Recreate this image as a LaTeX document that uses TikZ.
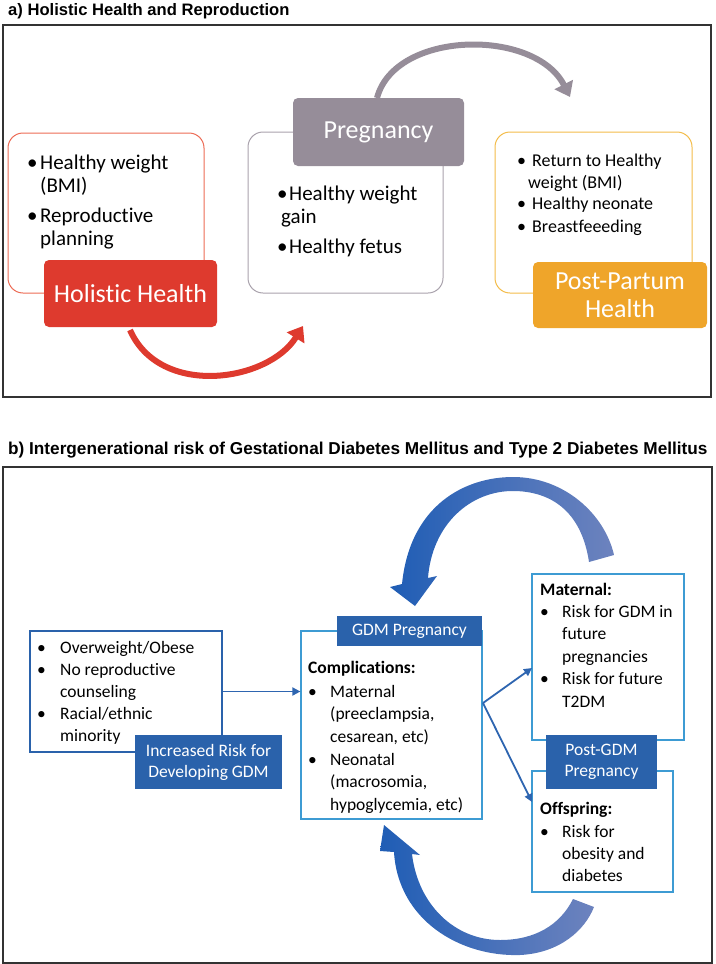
\documentclass[tikz,border=0pt]{standalone}
\usepackage{fontspec}
\setmainfont{Carlito}[Ligatures=NoCommon]
\newfontfamily\titlefont{Liberation Sans}
\usepackage{tikz}
\usetikzlibrary{calc}
\usetikzlibrary{positioning}
\usetikzlibrary{arrows.meta}

\definecolor{hhred}{HTML}{DE3A2E}
\definecolor{hhline}{HTML}{EC6B55}
\definecolor{pgfill}{HTML}{968D99}
\definecolor{pgline}{HTML}{A9A2AC}
\definecolor{ppfill}{HTML}{EFA52A}
\definecolor{ppline}{HTML}{F3BC4A}
\definecolor{bdark}{HTML}{2A62AB}
\definecolor{bline}{HTML}{3D9BD3}
\definecolor{barrowc}{HTML}{2E65B0}
\definecolor{bdeep}{HTML}{1F5DB5}
\definecolor{bsoft}{HTML}{6D83BE}
\definecolor{framec}{HTML}{333333}

\begin{document}
\begin{tikzpicture}[x=1pt,y=-1pt,
    ttl/.style={anchor=base west,inner sep=0pt,font=\titlefont\bfseries\fontsize{16.6}{19}\selectfont},
    atxt/.style={anchor=base west,inner sep=0pt,font=\fontsize{21}{24}\selectfont},
    ptxt/.style={anchor=base west,inner sep=0pt,font=\fontsize{18}{22}\selectfont},
    btxt/.style={anchor=base west,inner sep=0pt,font=\fontsize{17.5}{22}\selectfont},
    obox/.style={draw,line width=1pt,rounded corners=15pt,inner sep=0pt},
    alab/.style={text=white,rounded corners=5pt,inner sep=0pt,align=center,font=\fontsize{26}{28}\selectfont},
    bbox/.style={draw=bline,line width=1.2pt,inner sep=0pt},
    blab/.style={fill=bdark,text=white,inner sep=0pt,align=center,font=\fontsize{17.5}{21}\selectfont},
    barrow/.style={draw=barrowc,line width=1.8pt,-{Triangle[length=8pt,width=8pt]}},
    bigarc/.style={line width=6pt,-{Triangle[length=14pt,width=20pt]}}]

        \useasboundingbox (0,0) rectangle (715,964);

        \node[ttl] (titlea) at (8,15) {a) Holistic Health and Reproduction};
        \draw[framec,line width=1.5pt] (3,25) rectangle (711,397);

        \node[obox,draw=hhline,minimum width=196,minimum height=160] (hhbox) at (106,213) {};
        \node[obox,draw=pgline,minimum width=195,minimum height=161] (pgbox) at (345.5,212.5) {};
        \node[obox,draw=ppline,minimum width=197,minimum height=161] (ppbox) at (593.5,212.5) {};

        \node[alab,fill=hhred,minimum width=173,minimum height=67] (hh) at (130.5,293.5) {Holistic Health};
        \node[alab,fill=pgfill,minimum width=171,minimum height=68] (pg) at (378.5,132) {Pregnancy};
        \node[alab,fill=ppfill,minimum width=174,minimum height=66] (pp) at (620,295) {Post-Partum\\Health};

        \node[atxt] (hwb) at (27,169) {\textbullet};
        \node[atxt] (hw1) at (40,169) {Healthy weight};
        \node[atxt] (hw2) at (40,192) {(BMI)};
        \node[atxt] (rpb) at (27,222) {\textbullet};
        \node[atxt] (rp1) at (40,222) {Reproductive};
        \node[atxt] (rp2) at (40,245) {planning};

        \node[atxt] (gwb) at (277,200) {\textbullet};
        \node[atxt] (gw1) at (289,200) {Healthy weight};
        \node[atxt] (gw2) at (281,223) {gain};
        \node[atxt] (hfb) at (277,253) {\textbullet};
        \node[atxt] (hf1) at (289,253) {Healthy fetus};

        \node[ptxt] (rtb) at (517,166) {\textbullet};
        \node[ptxt] (rt1) at (532,166) {Return to Healthy};
        \node[ptxt] (rt2) at (528,188) {weight (BMI)};
        \node[ptxt] (hnb) at (517,209) {\textbullet};
        \node[ptxt] (hn1) at (532,209) {Healthy neonate};
        \node[ptxt] (bfb) at (517,232) {\textbullet};
        \node[ptxt] (bf1) at (532,232) {Breastfeeeding};

        \draw[bigarc,hhred] (130,330) .. controls (160,398) and (268,382) .. (303,326);
        \draw[bigarc,pgfill] (377,98) .. controls (395,30) and (535,28) .. (570,97);

        \node[ttl,font=\titlefont\bfseries\fontsize{17.2}{19}\selectfont] (titleb) at (8,454) {b) Intergenerational risk of Gestational Diabetes Mellitus and Type 2 Diabetes Mellitus};
        \draw[framec,line width=1.5pt] (3,467) rectangle (712,963);

        \node[bbox,draw=bdark,line width=1.8pt,minimum width=192,minimum height=121] (riskbox) at (126,691.5) {};
        \node[bbox,minimum width=181,minimum height=188] (gdmbox) at (391.5,725) {};
        \node[bbox,minimum width=152,minimum height=166] (matbox) at (608,657) {};
        \node[bbox,minimum width=141,minimum height=121] (offbox) at (602.5,831.5) {};

        \node[blab,minimum width=147,minimum height=54] (risk) at (208.5,762) {Increased Risk for\\Developing GDM};
        \node[blab,minimum width=145,minimum height=30] (gdm) at (409.5,631) {GDM Pregnancy};
        \node[blab,minimum width=111,minimum height=54] (post) at (601.5,762) {Post-GDM\\Pregnancy};

        \node[btxt] (owb) at (37,653) {\textbullet};
        \node[btxt] (ow1) at (60,653) {Overweight/Obese};
        \node[btxt] (nrb) at (37,675) {\textbullet};
        \node[btxt] (nr1) at (60,675) {No reproductive};
        \node[btxt] (nr2) at (60,697) {counseling};
        \node[btxt] (reb) at (37,719) {\textbullet};
        \node[btxt] (re1) at (60,719) {Racial/ethnic};
        \node[btxt] (re2) at (60,741) {minority};

        \node[btxt] (cp) at (308,673) {\bfseries Complications:};
        \node[btxt] (mtb) at (308,697) {\textbullet};
        \node[btxt] (mt1) at (330,697) {Maternal};
        \node[btxt] (mt2) at (330,719.5) {(preeclampsia,};
        \node[btxt] (mt3) at (330,742) {cesarean, etc)};
        \node[btxt] (nnb) at (308,765) {\textbullet};
        \node[btxt] (nn1) at (330,765) {Neonatal};
        \node[btxt] (nn2) at (330,787.5) {(macrosomia,};
        \node[btxt] (nn3) at (330,810) {hypoglycemia, etc)};

        \node[btxt] (ma) at (540,595) {\bfseries Maternal:};
        \node[btxt] (mab) at (540,617) {\textbullet};
        \node[btxt] (ma1) at (562,617) {Risk for GDM in};
        \node[btxt] (ma2) at (562,639.5) {future};
        \node[btxt] (ma3) at (562,662) {pregnancies};
        \node[btxt] (mfb) at (540,684.5) {\textbullet};
        \node[btxt] (mf1) at (562,684.5) {Risk for future};
        \node[btxt] (mf2) at (562,707) {T2DM};

        \node[btxt] (of) at (540,814) {\bfseries Offspring:};
        \node[btxt] (ofb) at (540,837) {\textbullet};
        \node[btxt] (of1) at (562,837) {Risk for};
        \node[btxt] (of2) at (562,859) {obesity and};
        \node[btxt] (of3) at (562,881) {diabetes};

        \coordinate (fork) at (483,703);
        \coordinate (matin) at (532,668);
        \coordinate (offin) at (532,802);
        \draw[barrow] (riskbox.east) -- (riskbox.east -| gdmbox.west);
        \draw[barrow] (fork) -- (matin);
        \draw[barrow] (fork) -- (offin);

        \shade[left color=bdeep,right color=bsoft] (390,587) -- (402,584)
            .. controls (410,505) and (465,477) .. (513,477)
            .. controls (565,477) and (605,515) .. (614,555) -- (589,562)
            .. controls (582,515) and (555,492) .. (515,491)
            .. controls (470,490) and (432,525) .. (428,578) -- (437,576) -- (415,606) -- cycle;
        \shade[left color=bdeep,right color=bsoft] (380,851) -- (394,852)
            .. controls (398,920) and (460,957) .. (520,955)
            .. controls (560,953) and (585,930) .. (594,907) -- (573,899)
            .. controls (560,925) and (535,940) .. (500,940)
            .. controls (455,940) and (418,905) .. (412,854) -- (420,855) -- (384,825) -- cycle;
      \end{tikzpicture}
\end{document}
